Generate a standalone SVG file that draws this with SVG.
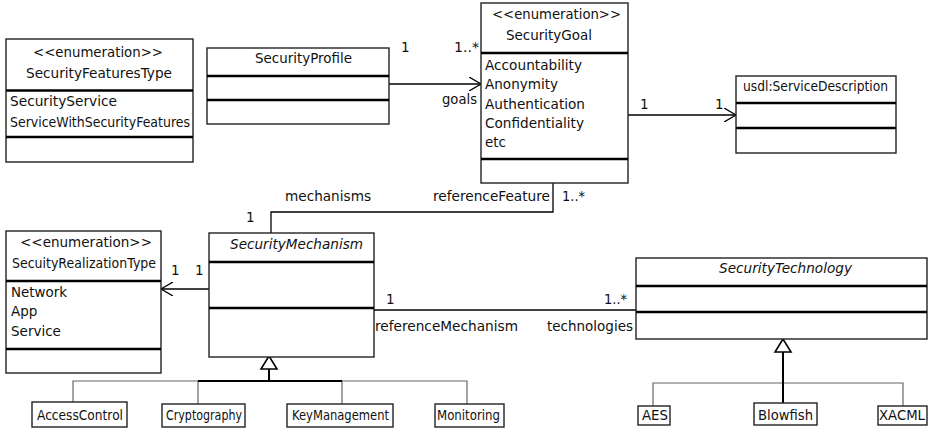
<svg xmlns="http://www.w3.org/2000/svg" width="930" height="432" viewBox="0 0 930 432">
<defs>
<marker id="open" markerWidth="14" markerHeight="14" refX="12" refY="7" orient="auto" markerUnits="userSpaceOnUse">
<path d="M0,0 L12,7 L0,14" fill="none" stroke="#000" stroke-width="1.3"/>
</marker>
</defs>
<style>
text{font-family:"DejaVu Sans",sans-serif;font-size:13.5px;fill:#111}
.i{font-style:italic}
.box{fill:#fff;stroke:#222;stroke-width:1.4}
.sep{stroke:#000;stroke-width:2.4}
.ln{fill:none;stroke:#000;stroke-width:1.3}
.gl{fill:none;stroke:#666;stroke-width:1.2}
.gt{fill:none;stroke:#000;stroke-width:2}
.tri{fill:#fff;stroke:#000;stroke-width:1.6}
</style>
<g id="connectors">
<line class="ln" x1="389" y1="84" x2="481" y2="84" marker-end="url(#open)"/>
<line class="ln" x1="628" y1="115" x2="736" y2="115" marker-end="url(#open)"/>
<polyline class="ln" points="553,183 553,212 271,212 271,233"/>
<line class="ln" x1="209" y1="289" x2="161" y2="289" marker-end="url(#open)"/>
<line class="ln" x1="374" y1="310" x2="636" y2="310"/>
<polyline class="gl" points="73,402 73,381 467,381 467,404"/>
<line class="gl" x1="198" y1="381" x2="198" y2="404"/>
<line class="gl" x1="342" y1="381" x2="342" y2="404"/>
<line class="gt" x1="198" y1="381" x2="342" y2="381"/>
<line class="gt" x1="269" y1="369" x2="269" y2="381"/>
<polygon class="tri" points="269,356 261,369 277,369"/>
<polyline class="gl" points="653,406 653,383 903,383 903,406"/>
<line class="gt" x1="783" y1="352" x2="783" y2="403"/>
<polygon class="tri" points="783,339 775,352 791,352"/>
<text x="401" y="52">1</text>
<text x="454" y="52" textLength="25" lengthAdjust="spacingAndGlyphs">1..*</text>
<text x="442" y="104" textLength="35" lengthAdjust="spacingAndGlyphs">goals</text>
<text x="640" y="109">1</text>
<text x="715" y="109">1</text>
<text x="285" y="201" textLength="86" lengthAdjust="spacingAndGlyphs">mechanisms</text>
<text x="246" y="222">1</text>
<text x="433" y="201" textLength="117" lengthAdjust="spacingAndGlyphs">referenceFeature</text>
<text x="562" y="201" textLength="23" lengthAdjust="spacingAndGlyphs">1..*</text>
<text x="171" y="275">1</text>
<text x="195" y="275">1</text>
<text x="386" y="304">1</text>
<text x="604" y="304" textLength="23" lengthAdjust="spacingAndGlyphs">1..*</text>
<text x="375" y="331" textLength="143" lengthAdjust="spacingAndGlyphs">referenceMechanism</text>
<text x="547" y="331" textLength="86" lengthAdjust="spacingAndGlyphs">technologies</text>
</g>
<g id="SecurityFeaturesType">
<rect class="box" x="6" y="39" width="187" height="123"/>
<line class="sep" x1="6" y1="90.5" x2="193" y2="90.5"/>
<line class="sep" x1="6" y1="137" x2="193" y2="137"/>
<text x="33" y="57" textLength="130" lengthAdjust="spacingAndGlyphs">&lt;&lt;enumeration&gt;&gt;</text>
<text x="26" y="78" textLength="146" lengthAdjust="spacingAndGlyphs">SecurityFeaturesType</text>
<text x="10" y="106" textLength="107" lengthAdjust="spacingAndGlyphs">SecurityService</text>
<text x="10" y="127" textLength="180" lengthAdjust="spacingAndGlyphs">ServiceWithSecurityFeatures</text>
</g>
<g id="SecurityProfile">
<rect class="box" x="207" y="48" width="182" height="76"/>
<line class="sep" x1="207" y1="76" x2="389" y2="76"/>
<line class="sep" x1="207" y1="100" x2="389" y2="100"/>
<text x="255" y="63" textLength="97" lengthAdjust="spacingAndGlyphs">SecurityProfile</text>
</g>
<g id="SecurityGoal">
<rect class="box" x="481" y="3" width="147" height="180"/>
<line class="sep" x1="481" y1="53" x2="628" y2="53"/>
<line class="sep" x1="481" y1="159" x2="628" y2="159"/>
<text x="492" y="19" textLength="129" lengthAdjust="spacingAndGlyphs">&lt;&lt;enumeration&gt;&gt;</text>
<text x="506" y="40" textLength="86" lengthAdjust="spacingAndGlyphs">SecurityGoal</text>
<text x="485" y="70" textLength="97" lengthAdjust="spacingAndGlyphs">Accountability</text>
<text x="485" y="89" textLength="73" lengthAdjust="spacingAndGlyphs">Anonymity</text>
<text x="485" y="109" textLength="100" lengthAdjust="spacingAndGlyphs">Authentication</text>
<text x="485" y="128" textLength="99" lengthAdjust="spacingAndGlyphs">Confidentiality</text>
<text x="485" y="147" textLength="21" lengthAdjust="spacingAndGlyphs">etc</text>
</g>
<g id="ServiceDescription">
<rect class="box" x="736" y="76" width="160" height="77"/>
<line class="sep" x1="736" y1="103" x2="896" y2="103"/>
<line class="sep" x1="736" y1="128" x2="896" y2="128"/>
<text x="743" y="91" textLength="145" lengthAdjust="spacingAndGlyphs">usdl:ServiceDescription</text>
</g>
<g id="SecuityRealizationType">
<rect class="box" x="6" y="231" width="155" height="142"/>
<line class="sep" x1="6" y1="281" x2="161" y2="281"/>
<line class="sep" x1="6" y1="349" x2="161" y2="349"/>
<text x="20" y="247" textLength="132" lengthAdjust="spacingAndGlyphs">&lt;&lt;enumeration&gt;&gt;</text>
<text x="12" y="268" textLength="144" lengthAdjust="spacingAndGlyphs">SecuityRealizationType</text>
<text x="11" y="297" textLength="56" lengthAdjust="spacingAndGlyphs">Network</text>
<text x="11" y="316">App</text>
<text x="11" y="336">Service</text>
</g>
<g id="SecurityMechanism">
<rect class="box" x="209" y="233" width="165" height="124"/>
<line class="sep" x1="209" y1="262" x2="374" y2="262"/>
<line class="sep" x1="209" y1="308" x2="374" y2="308"/>
<text class="i" x="230" y="249" textLength="133" lengthAdjust="spacingAndGlyphs">SecurityMechanism</text>
</g>
<g id="SecurityTechnology">
<rect class="box" x="636" y="258" width="291" height="81"/>
<line class="sep" x1="636" y1="286" x2="927" y2="286"/>
<line class="sep" x1="636" y1="312" x2="927" y2="312"/>
<text class="i" x="719" y="273" textLength="133" lengthAdjust="spacingAndGlyphs">SecurityTechnology</text>
</g>
<g id="AccessControl">
<rect class="box" x="32" y="402" width="95" height="25"/>
<text x="37" y="420" textLength="86" lengthAdjust="spacingAndGlyphs">AccessControl</text>
</g>
<g id="Cryptography">
<rect class="box" x="162" y="404" width="83" height="23"/>
<text x="166" y="420" textLength="76" lengthAdjust="spacingAndGlyphs">Cryptography</text>
</g>
<g id="KeyManagement">
<rect class="box" x="287" y="404" width="106" height="23"/>
<text x="292" y="420" textLength="97" lengthAdjust="spacingAndGlyphs">KeyManagement</text>
</g>
<g id="Monitoring">
<rect class="box" x="435" y="404" width="69" height="23"/>
<text x="437" y="420" textLength="63" lengthAdjust="spacingAndGlyphs">Monitoring</text>
</g>
<g id="AES">
<rect class="box" x="638" y="406" width="32" height="19"/>
<text x="642" y="420" textLength="26" lengthAdjust="spacingAndGlyphs">AES</text>
</g>
<g id="Blowfish">
<rect class="box" x="754" y="403" width="63" height="22"/>
<text x="758" y="420" textLength="55" lengthAdjust="spacingAndGlyphs">Blowfish</text>
</g>
<g id="XACML">
<rect class="box" x="878" y="406" width="49" height="19"/>
<text x="879" y="420" textLength="46" lengthAdjust="spacingAndGlyphs">XACML</text>
</g>
</svg>
